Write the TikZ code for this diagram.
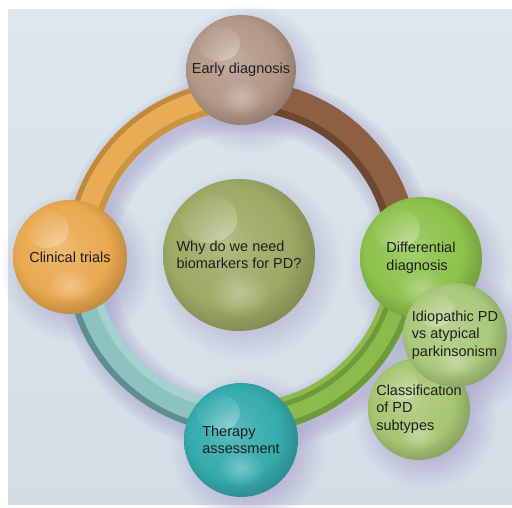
\documentclass[tikz,border=0pt]{standalone}
\usepackage{fontspec}
\setmainfont{Liberation Sans}
\usetikzlibrary{calc, fadings}

\definecolor{paneltop}{HTML}{DCE8EC}
\definecolor{panelbot}{HTML}{D3DDE6}
\definecolor{haze}{HTML}{A8A2CC}
\definecolor{ink}{HTML}{1E1E1E}
% ring bands
\definecolor{ochre}{HTML}{E8AC55}
\definecolor{ochredk}{HTML}{BF8B3B}
\definecolor{ochremd}{HTML}{C9953F}
\definecolor{umber}{HTML}{8D6041}
\definecolor{umberdk}{HTML}{6B482F}
\definecolor{aqua}{HTML}{8CC3C1}
\definecolor{aquadk}{HTML}{5F8E8E}
\definecolor{aqualt}{HTML}{A4D2CF}
\definecolor{leaf}{HTML}{8CBB4B}
\definecolor{leafdk}{HTML}{6E9B3A}
% spheres
\definecolor{cEarly}{HTML}{B39887}
\definecolor{cTrials}{HTML}{E9A950}
\definecolor{cWhy}{HTML}{9DAA64}
\definecolor{cTherapy}{HTML}{35ABAD}
\definecolor{cDiff}{HTML}{8DC24B}
\definecolor{cIdio}{HTML}{A9C97A}
\definecolor{cSub}{HTML}{A6C672}

\colorlet{sphcol}{gray}
\pgfdeclareradialshading[sphcol]{sphere}{\pgfqpoint{-5bp}{5bp}}{%
  color(0bp)=(sphcol!78!white);
  color(10bp)=(sphcol!92!white);
  color(20bp)=(sphcol);
  color(28bp)=(sphcol!82!black);
  color(50bp)=(sphcol!65!black)}

\pgfdeclareradialshading{softdisc}{\pgfpointorigin}{%
  color(0bp)=(pgftransparent!0);
  color(13bp)=(pgftransparent!0);
  color(25bp)=(pgftransparent!100);
  color(50bp)=(pgftransparent!100)}
\pgfdeclarefading{soft}{\pgfuseshading{softdisc}}
\tikzfading[name=glow, inner color=transparent!0, outer color=transparent!100]

\tikzset{
  tone/.code={\colorlet{sphcol}{#1}},
  orb/.style={circle, inner sep=0pt, minimum size=#1, shading=sphere,
    align=left, text=ink, font=\fontsize{14.5}{17.5}\selectfont,
    path picture={
      \fill[white, opacity=.4, path fading=glow]
        let \p1=(path picture bounding box.east), \p2=(path picture bounding box.center),
            \n1={\x1-\x2} in
        (\x2-0.4*\n1, \y2+0.48*\n1) ellipse ({0.38*\n1} and {0.32*\n1});
      \fill[white, opacity=.3, path fading=glow]
        let \p1=(path picture bounding box.east), \p2=(path picture bounding box.center),
            \n1={\x1-\x2} in
        (\x2, \y2-0.5*\n1) ellipse ({0.42*\n1} and {0.32*\n1});
    }},
  band/.style={line width=#1, line cap=butt}
}

\begin{document}
\begin{tikzpicture}[x=1pt, y=1pt]
  \fill[white] (0,0) rectangle (512,508);
  \useasboundingbox (0,0) rectangle (512,508);
  \fill[top color=paneltop, bottom color=panelbot] (8,3) rectangle (512,498);

  \coordinate (rc) at (242,251);
  \coordinate (p-early) at (241,438);
  \coordinate (p-trials) at (70,251);
  \coordinate (p-therapy) at (241,68);
  \coordinate (p-why) at (239,253);
  \coordinate (p-diffdx) at (421,250);
  \coordinate (p-idio) at (455,173);
  \coordinate (p-subtypes) at (419,99);

  % soft shadows
  \foreach \w in {28,34,40,46,52,58}
    \draw[haze, opacity=.12, line width=\w pt] ($(rc)+(5,-7)$) circle[radius=161];
  \foreach \p/\r in {early/55, trials/57, therapy/57, why/76, diffdx/61, idio/52, subtypes/51}
    \fill[haze, opacity=.7, path fading=soft] ($(p-\p)+(7,-9)$) circle[radius=\r+20];

  % ring, one quarter per colour
  \draw[band=31pt, umber] (rc) ++(0:161) arc[start angle=0, end angle=90, radius=161];
  \draw[band=7pt, umberdk] (rc) ++(0:149) arc[start angle=0, end angle=90, radius=149];

  \draw[band=31pt, ochre] (rc) ++(90:161) arc[start angle=90, end angle=180, radius=161];
  \draw[band=5pt, ochredk] (rc) ++(90:174) arc[start angle=90, end angle=180, radius=174];
  \draw[band=6pt, ochremd] (rc) ++(90:148.5) arc[start angle=90, end angle=180, radius=148.5];

  \draw[band=31pt, aqua] (rc) ++(180:161) arc[start angle=180, end angle=270, radius=161];
  \draw[band=6pt, aquadk] (rc) ++(180:173.5) arc[start angle=180, end angle=270, radius=173.5];
  \draw[band=8pt, aqualt] (rc) ++(180:149.5) arc[start angle=180, end angle=270, radius=149.5];

  \draw[band=31pt, leaf] (rc) ++(270:161) arc[start angle=270, end angle=360, radius=161];
  \draw[band=6pt, leafdk] (rc) ++(270:173.5) arc[start angle=270, end angle=360, radius=173.5];
  \draw[band=5pt, leafdk] (rc) ++(270:153) arc[start angle=270, end angle=360, radius=153];

  % spheres
  \node[orb=152pt, tone=cWhy] (why) at (p-why) {Why do we need\\biomarkers for PD?};
  \node[orb=110pt, tone=cEarly] (early) at (p-early) {Early diagnosis};
  \node[orb=114pt, tone=cTrials] (trials) at (p-trials) {Clinical trials};
  \node[orb=114pt, tone=cTherapy] (therapy) at (p-therapy) {Therapy\\assessment};
  \node[orb=122pt, tone=cDiff] (diffdx) at (p-diffdx) {Differential\\diagnosis};
  \node[orb=102pt, tone=cSub] (subtypes) at (p-subtypes) {Classification\\of PD\\subtypes};
  \node[orb=104pt, tone=cIdio] (idio) at (p-idio) {Idiopathic PD\\vs atypical\\parkinsonism};
\end{tikzpicture}
\end{document}
